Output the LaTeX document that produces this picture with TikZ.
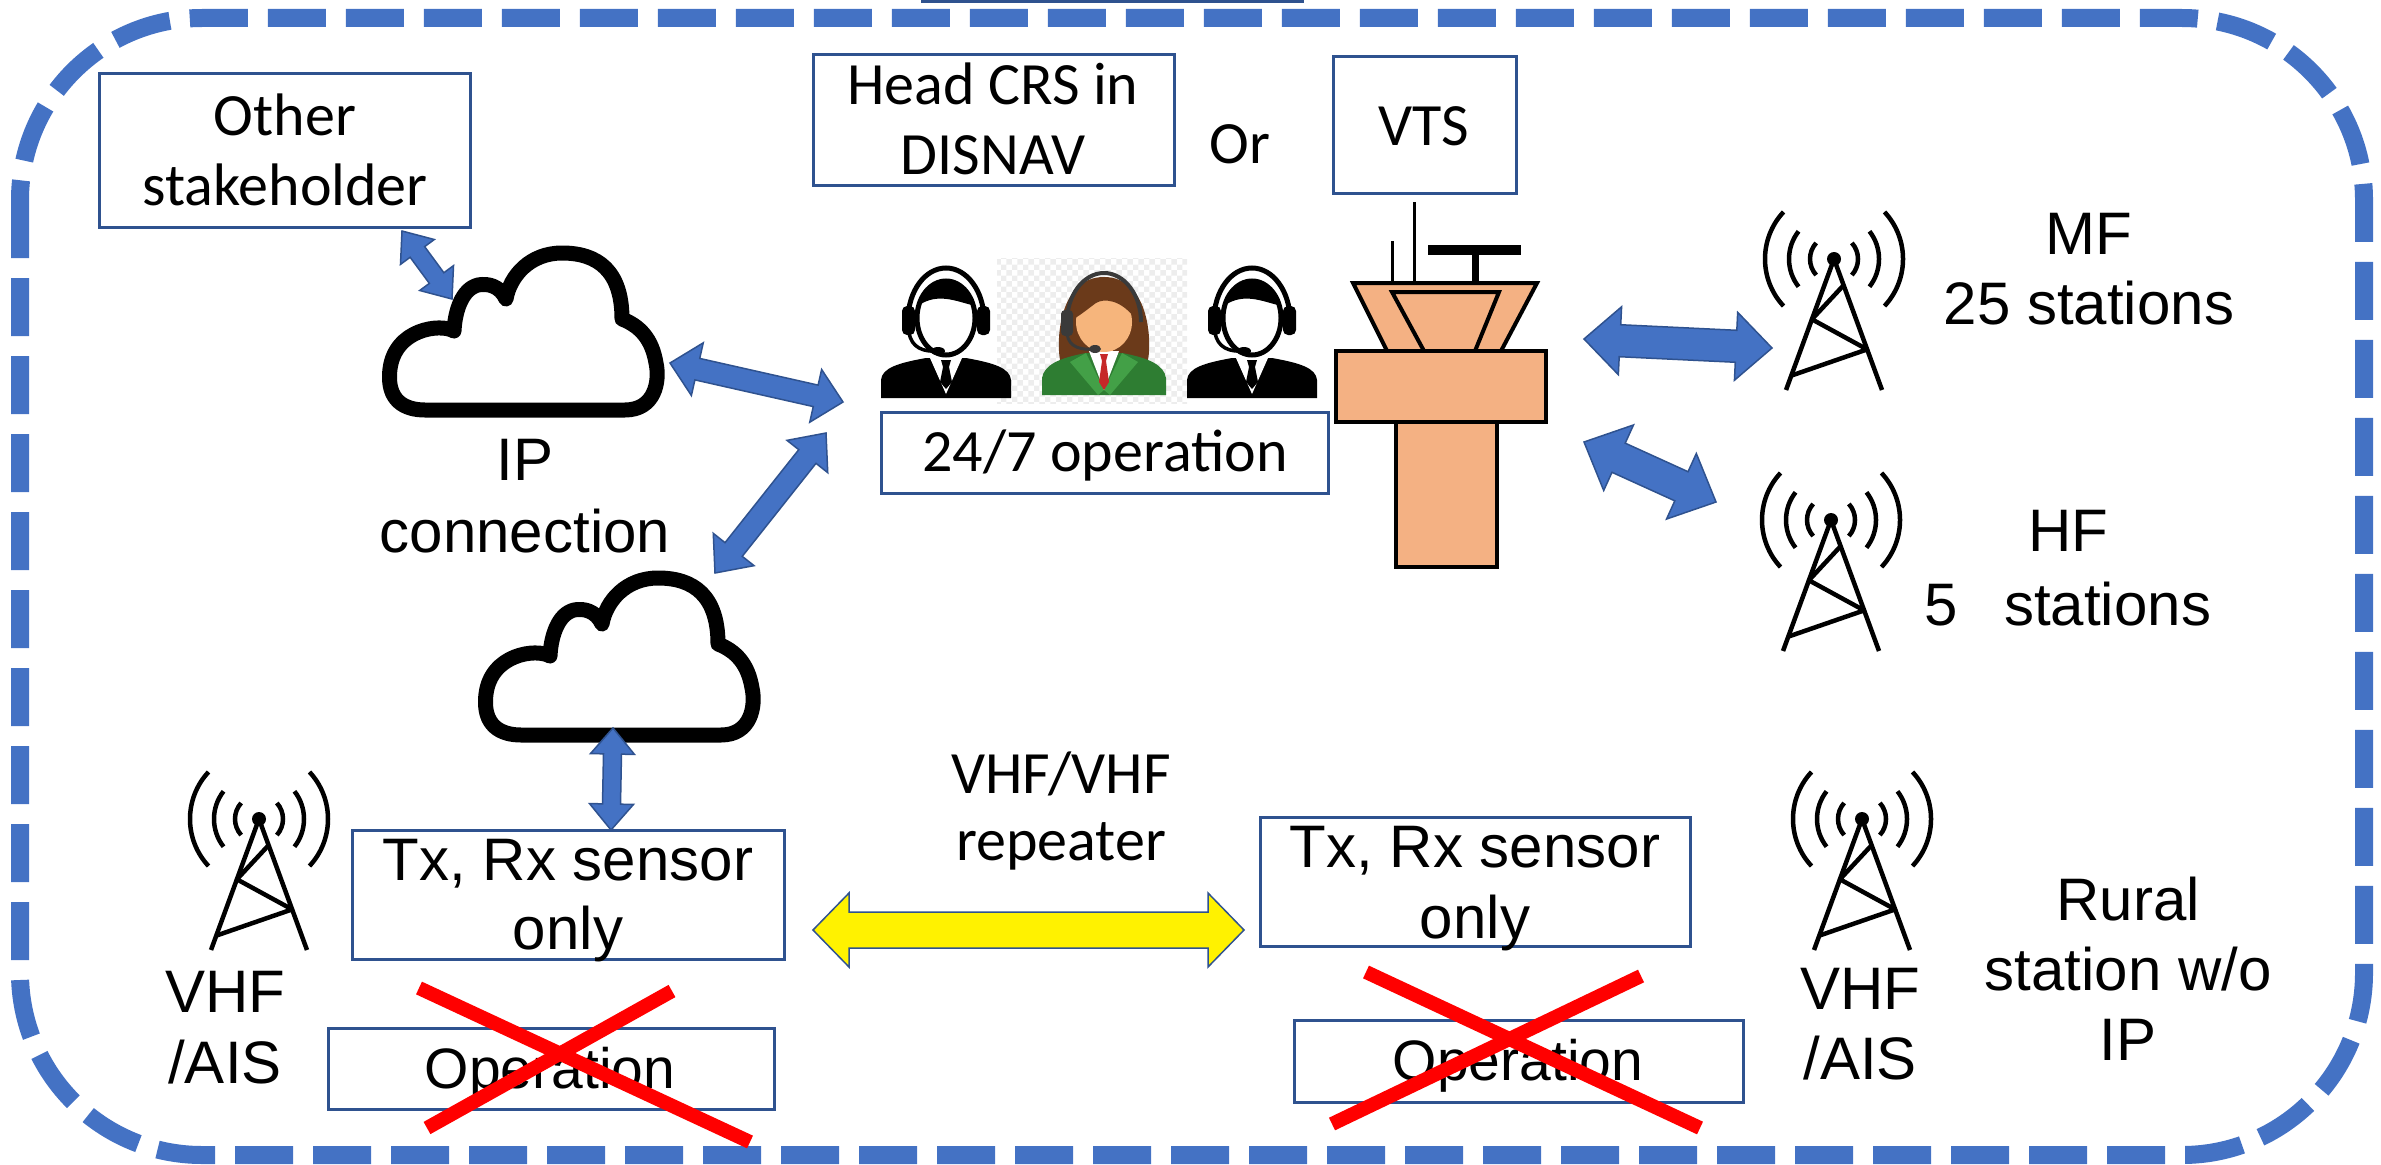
\documentclass[tikz,border=0pt]{standalone}
\usepackage{fontspec}
\setmainfont{Carlito}
\newfontfamily\arialface{Liberation Sans}
\usetikzlibrary{calc,patterns}

\definecolor{frameblue}{HTML}{4472C4}
\definecolor{boxblue}{HTML}{2F528F}
\definecolor{towerfill}{HTML}{F4B183}
\definecolor{hairbrown}{HTML}{6B3A1A}
\definecolor{skin}{HTML}{F6B57C}
\definecolor{suitgreen}{HTML}{2E7D32}
\definecolor{lapelgreen}{HTML}{43A047}
\definecolor{tiered}{HTML}{C62828}
\definecolor{headgray}{HTML}{3A3A3A}

% double-headed block arrow: tip A, tip B, shaft half width, head half width, head length, style
\newcommand\dblblock[6]{%
  \path ($(#1)!#5!(#2)$) coordinate (db-h1) ($(#2)!#5!(#1)$) coordinate (db-h2);
  \draw[#6] (#1) -- ($(db-h1)!#4!90:(#2)$) -- ($(db-h1)!#3!90:(#2)$)
    -- ($(db-h2)!#3!-90:(#1)$) -- ($(db-h2)!#4!-90:(#1)$) -- (#2)
    -- ($(db-h2)!#4!90:(#1)$) -- ($(db-h2)!#3!90:(#1)$)
    -- ($(db-h1)!#3!-90:(#2)$) -- ($(db-h1)!#4!-90:(#2)$) -- cycle;
}

\tikzset{
  panel/.style={draw=boxblue, line width=3pt, fill=white, inner sep=0pt},
  % multi-line labels are placed by the baseline of their last line
  cal/.style={inner sep=0pt, align=center, anchor=base, font=\fontsize{60}{70}\selectfont},
  ari/.style={inner sep=0pt, align=center, anchor=base, font=\arialface\fontsize{60}{70}\selectfont},
  bluearrow/.style={fill=frameblue, draw=boxblue, line width=1.5pt, line join=miter},
  yellowarrow/.style={fill=yellow, draw=boxblue, line width=1.5pt},
  cross/.style={draw=red, line width=14pt},
  towerline/.style={draw=black, line width=4pt, fill=towerfill, line join=miter},
  % cloud outline icon
  cloudicon/.pic={
    \draw[line width=15pt, fill=white, line join=round]
      (-97,79) -- (103,79) .. controls (133,79) and (138,50) .. (134,32)
      .. controls (130,8) and (118,-5) .. (100,-12)
      .. controls (100,-60) and (76,-78) .. (40,-78)
      .. controls (8,-78) and (-12,-55) .. (-16,-32)
      .. controls (-22,-45) and (-34,-48) .. (-44,-46)
      .. controls (-60,-42) and (-67,-20) .. (-68,0)
      .. controls (-82,-8) and (-127,-2) .. (-132,38)
      .. controls (-136,70) and (-117,79) .. (-97,79) -- cycle;
  },
  % lattice mast with radio waves
  mast/.pic={
    \draw[line width=4.5pt, line join=round] (-48,131) -- (0,0) -- (48,131);
    \draw[line width=4.5pt, line join=round] (9.6,26.2) -- (-22.1,60.3) -- (33.1,90.4) -- (-42.7,116.6);
    \fill (0,0) circle[radius=7];
    \foreach \r/\a in {24/42, 45/38, 69/43} {
      \draw[line width=4.5pt] ({-\a}:\r) arc[start angle={-\a}, end angle={\a}, radius=\r];
      \draw[line width=4.5pt] ({180-\a}:\r) arc[start angle={180-\a}, end angle={180+\a}, radius=\r];
    }
  },
  % operator with headset, dark suit
  agentman/.pic={
    \fill[black] (-65,80) -- (-65,62) .. controls (-64,50) and (-48,45) .. (-20,40) -- (20,40)
      .. controls (48,45) and (64,50) .. (65,62) -- (65,80) -- cycle;
    \fill[white] (-16,40) -- (16,40) -- (0,76) -- cycle;
    \fill[black] (-5,42) -- (5,42) -- (3,49) -- (6,64) -- (0,71) -- (-6,64) -- (-3,49) -- cycle;
    \draw[line width=5pt, fill=white] (0,0) ellipse[x radius=29, y radius=37];
    \fill (200:29 and 37) arc[start angle=200, end angle=340, x radius=29, y radius=37]
      .. controls (12,-16) and (-8,-26) .. cycle;
    \draw[line width=5pt] (-38,2) arc[start angle=180, end angle=360, x radius=38, y radius=52];
    \fill[rounded corners=5pt] (-44,-12) rectangle (-31,17);
    \fill[rounded corners=5pt] (31,-12) rectangle (44,17);
    \draw[line width=3.5pt] (-37,14) .. controls (-35,30) and (-22,34) .. (-9,33);
    \fill (-8,33) ellipse[x radius=7, y radius=4];
  },
  % operator with headset, green suit
  agentwoman/.pic={
    \fill[hairbrown] (-44,40) .. controls (-48,18) and (-44,-43) .. (0,-43)
      .. controls (44,-43) and (48,18) .. (44,40) -- cycle;
    \fill[suitgreen] (-62,75) -- (-62,58) .. controls (-60,45) and (-45,38) .. (-18,33) -- (18,33)
      .. controls (45,38) and (60,45) .. (62,58) -- (62,75) -- cycle;
    \fill[lapelgreen] (-18,33) -- (-34,42) -- (-6,75) -- (0,70) -- cycle;
    \fill[lapelgreen] (18,33) -- (34,42) -- (6,75) -- (0,70) -- cycle;
    \fill[skin] (-9,18) rectangle (9,36);
    \fill[white] (-15,31) -- (15,31) -- (0,70) -- cycle;
    \fill[tiered] (-4,34) -- (4,34) -- (2,41) -- (5,62) -- (0,70) -- (-5,62) -- (-2,41) -- cycle;
    \fill[skin] (0,2) ellipse[x radius=28, y radius=30];
    \fill[hairbrown] (-29,-2) .. controls (-29,-30) and (-12,-38) .. (0,-37)
      .. controls (18,-37) and (29,-25) .. (29,-4)
      .. controls (16,-20) and (0,-22) .. (-8,-17)
      .. controls (-15,-12) and (-22,-6) .. cycle;
    \draw[headgray, line width=4pt] (-37,2) arc[start angle=180, end angle=360, x radius=37, y radius=49];
    \fill[headgray, rounded corners=4pt] (-43,-10) rectangle (-31,16);
    \draw[headgray, line width=3pt] (-37,14) .. controls (-35,28) and (-22,30) .. (-10,29);
    \fill[headgray] (-9,29) ellipse[x radius=6, y radius=4];
  }
}

\begin{document}
\begin{tikzpicture}[x=1pt, y=-1pt]
\useasboundingbox (0,0) rectangle (2381,1164);

% outer dashed boundary
\draw[frameblue, line width=18pt, dash pattern=on 58pt off 20pt, rounded corners=182pt]
  (20,18) rectangle (2364,1155);

% box cut by the top edge
\node[panel, minimum width=380pt, minimum height=40pt] (topbox) at (1112,-18) {};

% boxes
\node[panel, minimum width=371pt, minimum height=154pt] (sh) at (284.5,150) {};
\node[panel, minimum width=361pt, minimum height=130pt] (head) at (993.5,120) {};
\node[panel, minimum width=183pt, minimum height=136pt] (vts) at (1424.5,125) {};
\node[panel, minimum width=447pt, minimum height=81pt] (ops) at (1104.5,452.5) {};
\node[panel, minimum width=432pt, minimum height=129pt] (txl) at (568,894.5) {};
\node[panel, minimum width=430pt, minimum height=129pt] (txr) at (1475,881.5) {};
\node[panel, minimum width=446pt, minimum height=81pt] (opl) at (551,1068.5) {};
\node[panel, minimum width=449pt, minimum height=82pt] (opr) at (1518.5,1061) {};

% texts
\node[cal] (sh-t) at (285,205) {Other\\stakeholder};
\node[cal] (head-t) at (993,174) {Head CRS in\\DISNAV};
\node[cal] (or-t) at (1240,163) {Or};
\node[cal] (vts-t) at (1424,145) {VTS};
\node[cal] (ops-t) at (1105,471) {24/7 operation};
\node[ari, font=\arialface\fontsize{60}{72}\selectfont] (ip-t) at (525,552) {IP\\connection};
\node[ari] (mf-t) at (2089,324) {MF\\25 stations};
\node[ari, font=\arialface\fontsize{60}{74}\selectfont] (hf-t) at (2068,625) {HF\\5\hspace{46pt}stations};
\node[ari, font=\arialface\fontsize{60}{71}\selectfont] (vhfl-t) at (225,1083) {VHF\\/AIS};
\node[ari] (vhfr-t) at (1860,1079) {VHF\\/AIS};
\node[ari] (rural-t) at (2128,1060) {Rural\\station w/o\\IP};
\node[ari, font=\arialface\fontsize{60}{69}\selectfont] (txl-t) at (568,949) {Tx, Rx sensor\\only};
\node[ari, font=\arialface\fontsize{60}{71}\selectfont] (txr-t) at (1475,938) {Tx, Rx sensor\\only};
\node[ari, font=\arialface\fontsize{57}{70}\selectfont] (opl-t) at (550,1088) {Operation};
\node[ari, font=\arialface\fontsize{57}{70}\selectfont] (opr-t) at (1518,1080) {Operation};
\node[cal, font=\fontsize{60}{67}\selectfont] (rep-t) at (1061,860) {VHF/VHF\\repeater};

% clouds
\pic at (522,331) {cloudicon};
\pic at (618,656) {cloudicon};

% operators
\fill[pattern=checkerboard, pattern color=black!7] (997,258) rectangle (1187,403);
\pic at (946,318) {agentman};
\pic at (1104,320) {agentwoman};
\pic at (1252,318) {agentman};

% control tower
\draw[line width=3pt] (1414.6,202) -- (1414.6,283);
\draw[line width=3pt] (1392,241) -- (1392,283);
\draw[line width=7pt] (1475,254) -- (1475,283);
\fill (1428,245) rectangle (1521,255);
\draw[towerline] (1353,283) -- (1537,283) -- (1501,351) -- (1387,351) -- cycle;
\draw[towerline] (1392,292) -- (1499,292) -- (1475,351) -- (1424,351) -- cycle;
\draw[towerline] (1336,351) rectangle (1546,422);
\draw[towerline] (1396,422) rectangle (1497,567);

% masts
\pic at (1834,259) {mast};
\pic at (1831,520) {mast};
\pic at (259,819) {mast};
\pic at (1862,819) {mast};

% connector end points
\coordinate (c-sh) at (402,231);
\coordinate (c-cl1a) at (452,299);
\coordinate (c-cl1b) at (670,363);
\coordinate (c-opsa) at (843,402);
\coordinate (c-cl2a) at (715,573);
\coordinate (c-opsb) at (826,433);
\coordinate (c-cl2b) at (613,728);
\coordinate (c-txl) at (611,830);
\coordinate (c-twa) at (1584,339);
\coordinate (c-mf) at (1772,348);
\coordinate (c-twb) at (1584,442);
\coordinate (c-hf) at (1716,502);
\coordinate (c-repl) at (813,930);
\coordinate (c-repr) at (1244,930);

% links
\dblblock{c-sh}{c-cl1a}{9pt}{21pt}{26pt}{bluearrow}
\dblblock{c-cl1b}{c-opsa}{11pt}{27pt}{28pt}{bluearrow}
\dblblock{c-cl2a}{c-opsb}{11pt}{26pt}{30pt}{bluearrow}
\dblblock{c-cl2b}{c-txl}{9pt}{22pt}{26pt}{bluearrow}
\dblblock{c-twa}{c-mf}{16pt}{34pt}{36pt}{bluearrow}
\dblblock{c-twb}{c-hf}{16pt}{36pt}{38pt}{bluearrow}
\dblblock{c-repl}{c-repr}{18pt}{37pt}{36pt}{yellowarrow}

% crossed-out operation
\coordinate (xl-a) at (419,988);
\coordinate (xl-b) at (750,1142);
\coordinate (xl-c) at (672,991);
\coordinate (xl-d) at (427,1128);
\coordinate (xr-a) at (1366,972);
\coordinate (xr-b) at (1700,1128);
\coordinate (xr-c) at (1641,976);
\coordinate (xr-d) at (1332,1124);
\draw[cross] (xl-a) -- (xl-b);
\draw[cross] (xl-c) -- (xl-d);
\draw[cross] (xr-a) -- (xr-b);
\draw[cross] (xr-c) -- (xr-d);
\end{tikzpicture}
\end{document}
